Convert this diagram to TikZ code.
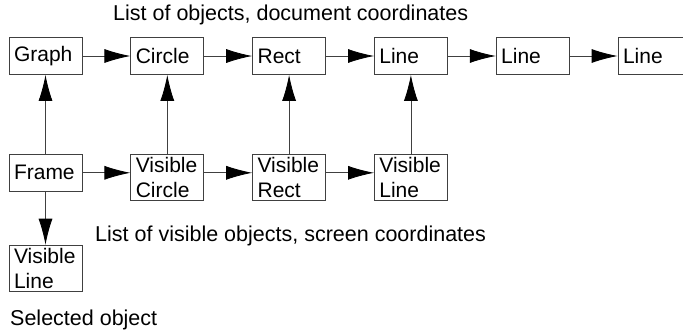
\documentclass[tikz,border=0pt]{standalone}
\usepackage{fontspec}
\setmainfont{Liberation Sans}
\usetikzlibrary{arrows.meta,positioning}

\begin{document}
\begin{tikzpicture}[
  x=1pt, y=-1pt,
  node distance=79pt and 48pt,
  every node/.style={font=\fontsize{21}{25}\selectfont},
  obj/.style={draw=black!75, line width=0.8pt, text width=63pt,
              inner xsep=5pt, inner ysep=3pt, minimum height=37pt, align=left},
  lbl/.style={font=\fontsize{21.5}{25}\selectfont, inner sep=0pt, anchor=west},
  line/.style={-{Latex[length=26pt, width=14pt, black]}, line width=0.8pt, draw=black!75}
]
\useasboundingbox (0,0) rectangle (683,332);

% document list
\node[obj] at (45.5,56) (graph) {Graph};
\node[obj, right=of graph]  (circle) {Circle};
\node[obj, right=of circle] (rect)   {Rect};
\node[obj, right=of rect]   (line1)  {Line};
\node[obj, right=of line1]  (line2)  {Line};
\node[obj, right=of line2]  (line3)  {Line};

% visible list
\node[obj, below=of graph]  (frame)  {Frame};
\node[obj, below=of circle] (vcircle) {Visible\\Circle};
\node[obj, below=of rect]   (vrect)   {Visible\\Rect};
\node[obj, below=of line1]  (vline)   {Visible\\Line};

\node[obj, below=53pt of frame] (sel) {Visible\\Line};

\node[lbl] at (113,15)  (doc)  {List of objects, document coordinates};
\node[lbl] at (95,236)  (scr)  {List of visible objects, screen coordinates};
\node[lbl] at (10,320)  (sto)  {Selected object};

\draw[line] (graph)  -- (circle);
\draw[line] (circle) -- (rect);
\draw[line] (rect)   -- (line1);
\draw[line] (line1)  -- (line2);
\draw[line] (line2)  -- (line3);

\draw[line] (frame.north)   -- (graph.south);
\draw[line] (vcircle.north) -- (circle.south);
\draw[line] (vrect.north)   -- (rect.south);
\draw[line] (vline.north)   -- (line1.south);

\draw[line] (frame)   -- (frame -| vcircle.west);
\draw[line] (vcircle.east |- frame) -- (vrect.west |- frame);
\draw[line] (vrect.east |- frame)   -- (vline.west |- frame);
\draw[line] (frame.south) -- (sel.north);
\end{tikzpicture}
\end{document}
